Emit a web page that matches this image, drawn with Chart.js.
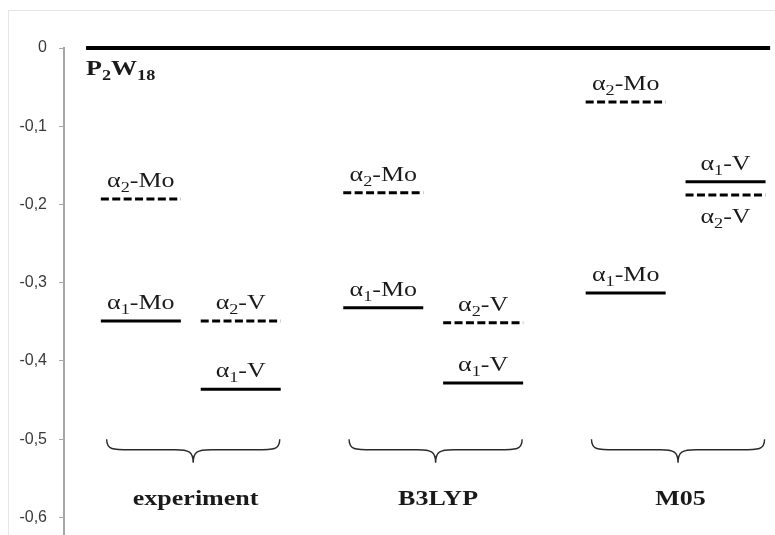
<!DOCTYPE html>
<html>
<head>
<meta charset="UTF-8">
<title>Energy levels</title>
<script src="https://cdn.jsdelivr.net/npm/chart.js"></script>
<style>
    html, body { margin: 0; padding: 0; background: #fff; overflow: hidden; }
    canvas { display: block; }
</style>
</head>
<body>
<canvas id="levels" width="775" height="535"></canvas>
<script>
// groups of calculations along the x axis
const groups = ['experiment', 'B3LYP', 'M05'];

// level energies per group (same order as groups)
const alpha2Mo = [-0.193, -0.185, -0.069];
const alpha1Mo = [-0.349, -0.332, -0.313];
const alpha2V  = [-0.349, -0.351, -0.188];
const alpha1V  = [-0.436, -0.428, -0.171];

const levelNames  = ['α2-Mo', 'α1-Mo', 'α2-V', 'α1-V'];
const levelValues = [alpha2Mo, alpha1Mo, alpha2V, alpha1V];
const levelColumn = [0, 0, 1, 1];            // 0 = left (Mo), 1 = right (V)
const levelDashed = [true, false, true, false];
const labelsBelow = ['M05|α2-V'];            // labels drawn under the line

const refName = 'P2W18';
const refValue = 0;

const braceTop = -0.5;
const braceTip = -0.53;
const groupLabelY = -0.578;

// x layout in group units
const colOffset = 0.206, halfWidth = 0.165;
const refStart = -0.432, refEnd = 2.39;

const datasets = [];
datasets.push({
    data: [{x: refStart, y: refValue}, {x: refEnd, y: refValue}],
    borderColor: '#000', borderWidth: 4
});
levelValues.forEach((vals, l) => {
    vals.forEach((v, g) => {
        const c = g + (levelColumn[l] ? colOffset : -colOffset);
        datasets.push({
            data: [{x: c - halfWidth, y: v}, {x: c + halfWidth, y: v}],
            borderColor: '#000', borderWidth: 3,
            borderDash: levelDashed[l] ? [8, 3.4] : []
        });
    });
});

const SERIF = '"Liberation Serif", "DejaVu Serif", serif';
const STRETCH = 1.3;

// draws text where digits are subscripts, horizontally stretched
function drawRich(ctx, text, x, y, size, bold, align) {
    const parts = [];
    for (const ch of text) {
        const sub = /[0-9]/.test(ch);
        if (parts.length && parts[parts.length - 1].sub === sub) parts[parts.length - 1].t += ch;
        else parts.push({t: ch, sub: sub});
    }
    const w = bold ? 'bold ' : '';
    const fontFor = p => w + Math.round(p.sub ? size * 0.7 : size) + 'px ' + SERIF;
    let total = 0;
    parts.forEach(p => { ctx.font = fontFor(p); p.w = ctx.measureText(p.t).width; total += p.w; });
    ctx.save();
    ctx.translate(x, y);
    ctx.scale(STRETCH, 1);
    let cx = align === 'left' ? 0 : -total / 2;
    ctx.textAlign = 'left';
    ctx.textBaseline = 'alphabetic';
    parts.forEach(p => {
        ctx.font = fontFor(p);
        ctx.fillText(p.t, cx, p.sub ? size * 0.25 : 0);
        cx += p.w;
    });
    ctx.restore();
}

function drawPlain(ctx, text, x, y, size, bold) {
    ctx.save();
    ctx.translate(x, y);
    ctx.scale(STRETCH, 1);
    ctx.font = (bold ? 'bold ' : '') + size + 'px ' + SERIF;
    ctx.textAlign = 'center';
    ctx.textBaseline = 'middle';
    ctx.fillText(text, 0, 0);
    ctx.restore();
}

const framePlugin = {
    id: 'frame',
    beforeDraw(chart) {
        const ctx = chart.ctx;
        ctx.save();
        ctx.fillStyle = '#fff';
        ctx.fillRect(0, 0, chart.width, chart.height);
        ctx.strokeStyle = '#e6e6e6';
        ctx.lineWidth = 1;
        ctx.strokeRect(8.5, 10.5, chart.width + 20, chart.height + 20);
        ctx.restore();
    }
};

const annotatePlugin = {
    id: 'annotate',
    afterDatasetsDraw(chart) {
        const ctx = chart.ctx, xs = chart.scales.x, ys = chart.scales.y;
        ctx.save();
        ctx.fillStyle = '#1a1a1a';

        // reference level name
        drawRich(ctx, refName, xs.getPixelForValue(refStart), ys.getPixelForValue(refValue) + 27, 20, true, 'left');

        // level labels
        levelValues.forEach((vals, l) => {
            vals.forEach((v, g) => {
                const c = g + (levelColumn[l] ? colOffset : -colOffset);
                const px = xs.getPixelForValue(c), py = ys.getPixelForValue(v);
                const below = labelsBelow.includes(groups[g] + '|' + levelNames[l]);
                drawRich(ctx, levelNames[l], px, below ? py + 28 : py - 12, 19.5, false, 'center');
            });
        });

        // braces and group names
        ctx.strokeStyle = '#2a2a2a';
        ctx.lineWidth = 1.4;
        groups.forEach((name, g) => {
            const cx = xs.getPixelForValue(g + 0.01);
            const hw = xs.getPixelForValue(g + 0.357) - xs.getPixelForValue(g);
            const top = ys.getPixelForValue(braceTop), tip = ys.getPixelForValue(braceTip);
            const mid = top + (tip - top) * 0.45;
            const r = 24;
            ctx.beginPath();
            ctx.moveTo(cx - hw, top);
            ctx.bezierCurveTo(cx - hw, mid, cx - hw + 6, mid, cx - hw + r, mid);
            ctx.lineTo(cx - r + 6, mid);
            ctx.bezierCurveTo(cx - 4, mid, cx, mid + 2, cx, tip);
            ctx.bezierCurveTo(cx, mid + 2, cx + 4, mid, cx + r - 6, mid);
            ctx.lineTo(cx + hw - r, mid);
            ctx.bezierCurveTo(cx + hw - 6, mid, cx + hw, mid, cx + hw, top);
            ctx.stroke();
            drawPlain(ctx, name, xs.getPixelForValue(g + 0.02), ys.getPixelForValue(groupLabelY), 20, true);
        });
        ctx.restore();
    }
};

new Chart(document.getElementById('levels'), {
    type: 'line',
    data: { datasets: datasets },
    options: {
        responsive: false,
        animation: false,
        layout: { padding: { top: 48, left: 0, right: 0, bottom: 0 } },
        elements: {
            point: { radius: 0 },
            line: { borderCapStyle: 'butt', tension: 0 }
        },
        datasets: { line: { clip: false } },
        plugins: { legend: { display: false }, tooltip: { enabled: false } },
        scales: {
            x: { type: 'linear', display: false, min: -0.523, max: 2.41 },
            y: {
                min: -0.6224,
                max: 0,
                afterFit: s => { s.width = 64; s.paddingTop = 0; s.paddingBottom = 0; },
                ticks: {
                    stepSize: 0.1,
                    includeBounds: false,
                    padding: 12,
                    color: '#3a3a3a',
                    font: { family: '"Liberation Sans", Arial, sans-serif', size: 16 },
                    callback: v => String(Math.round(v * 10) / 10).replace('.', ',')
                },
                grid: { drawOnChartArea: false, drawTicks: true, tickLength: 5, color: '#a6a6a6' },
                border: { color: '#a6a6a6', width: 2 }
            }
        }
    },
    plugins: [framePlugin, annotatePlugin]
});
</script>
</body>
</html>
